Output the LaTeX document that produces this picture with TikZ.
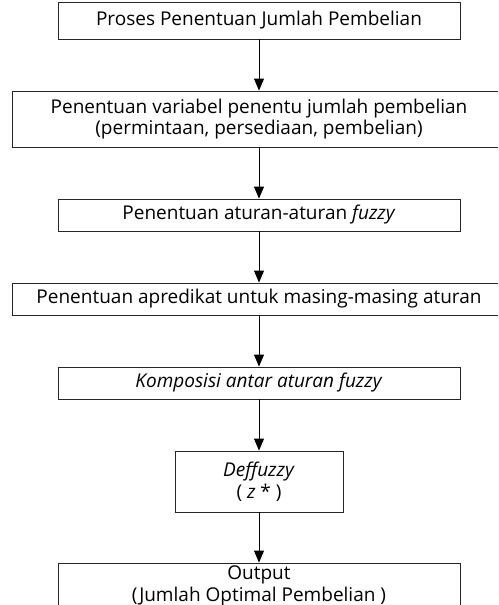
\documentclass[tikz,border=0pt]{standalone}
\usepackage{fontspec}
\setmainfont{Open Sans}
\usetikzlibrary{arrows.meta}
\begin{document}
\begin{tikzpicture}[x=1pt,y=-1pt,
  box/.style={draw=black!85,line width=0.9pt,inner sep=0pt,align=center,font=\fontsize{19}{21.5}\selectfont},
  arr/.style={draw=black,line width=0.9pt,-{Triangle[width=10pt,length=12pt]}}]
\clip (0,0) rectangle (498,605);
\useasboundingbox (0,0) rectangle (498,605);
\node[box,minimum width=402pt,minimum height=37pt] (b1) at (259,20.5) {Proses Penentuan Jumlah Pembelian};
\node[box,minimum width=494pt,minimum height=56pt] (b2) at (259,119) {Penentuan variabel penentu jumlah pembelian\\(permintaan, persediaan, pembelian)};
\node[box,minimum width=402pt,minimum height=32pt] (b3) at (259,215) {Penentuan aturan-aturan \textit{fuzzy}};
\node[box,minimum width=494pt,minimum height=32pt] (b4) at (259,299) {Penentuan apredikat untuk masing-masing aturan};
\node[box,minimum width=402pt,minimum height=32pt] (b5) at (259,383) {\textit{Komposisi antar aturan fuzzy}};
\node[box,minimum width=168pt,minimum height=61pt] (b6) at (259,481.5) {\textit{Deffuzzy}\\( \textit{z} * )};
\node[box,minimum width=402pt,minimum height=46pt] (b7) at (259,586) {Output\\(Jumlah Optimal Pembelian )};
\draw[arr] (b1) -- (b2);
\draw[arr] (b2) -- (b3);
\draw[arr] (b3) -- (b4);
\draw[arr] (b4) -- (b5);
\draw[arr] (b5) -- (b6);
\draw[arr] (b6) -- (b7);
\end{tikzpicture}
\end{document}
